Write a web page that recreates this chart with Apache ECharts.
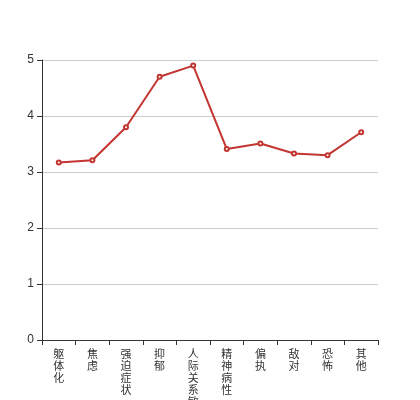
<!DOCTYPE html>
<html>
<head>
<meta charset="utf-8">
<script src="https://cdn.jsdelivr.net/npm/echarts@6/dist/echarts.min.js"></script>
<style>
  html, body { margin: 0; padding: 0; background: #fff; }
  #chart { width: 420px; height: 400px; }
</style>
</head>
<body>
<div id="chart"></div>
<script>
const categories = ['躯体化', '焦虑', '强迫症状', '抑郁', '人际关系敏感', '精神病性', '偏执', '敌对', '恐怖', '其他'];
const scores = [3.17, 3.21, 3.80, 4.70, 4.90, 3.41, 3.51, 3.33, 3.30, 3.71];
const yTicks = { min: 0, max: 5, interval: 1 };

const chart = echarts.init(document.getElementById('chart'));

chart.setOption({
  backgroundColor: '#fff',
  animation: false,
  grid: { left: 42, right: 42, top: 60, bottom: 60, containLabel: false, outerBoundsMode: 'none' },
  xAxis: {
    type: 'category',
    data: categories,
    axisLine: { lineStyle: { color: '#333' } },
    axisTick: { show: true, alignWithLabel: false, lineStyle: { color: '#333' } },
    axisLabel: {
      interval: 0,
      color: '#333',
      fontFamily: 'Noto Sans CJK SC',
      fontSize: 11,
      lineHeight: 12,
      verticalAlign: 'top',
      formatter: (value) => value.split('').join('\n'),
    },
  },
  yAxis: {
    type: 'value',
    min: yTicks.min,
    max: yTicks.max,
    interval: yTicks.interval,
    axisLine: { show: true, lineStyle: { color: '#333' } },
    axisTick: { show: true, lineStyle: { color: '#333' } },
    axisLabel: { color: '#333', fontSize: 12 },
    splitLine: { lineStyle: { color: '#ccc' } },
  },
  series: [
    {
      type: 'line',
      data: scores,
      symbol: 'emptyCircle',
      symbolSize: 4,
      lineStyle: { color: '#c23531', width: 2 },
      itemStyle: { color: '#c23531' },
    },
  ],
});
</script>
</body>
</html>
